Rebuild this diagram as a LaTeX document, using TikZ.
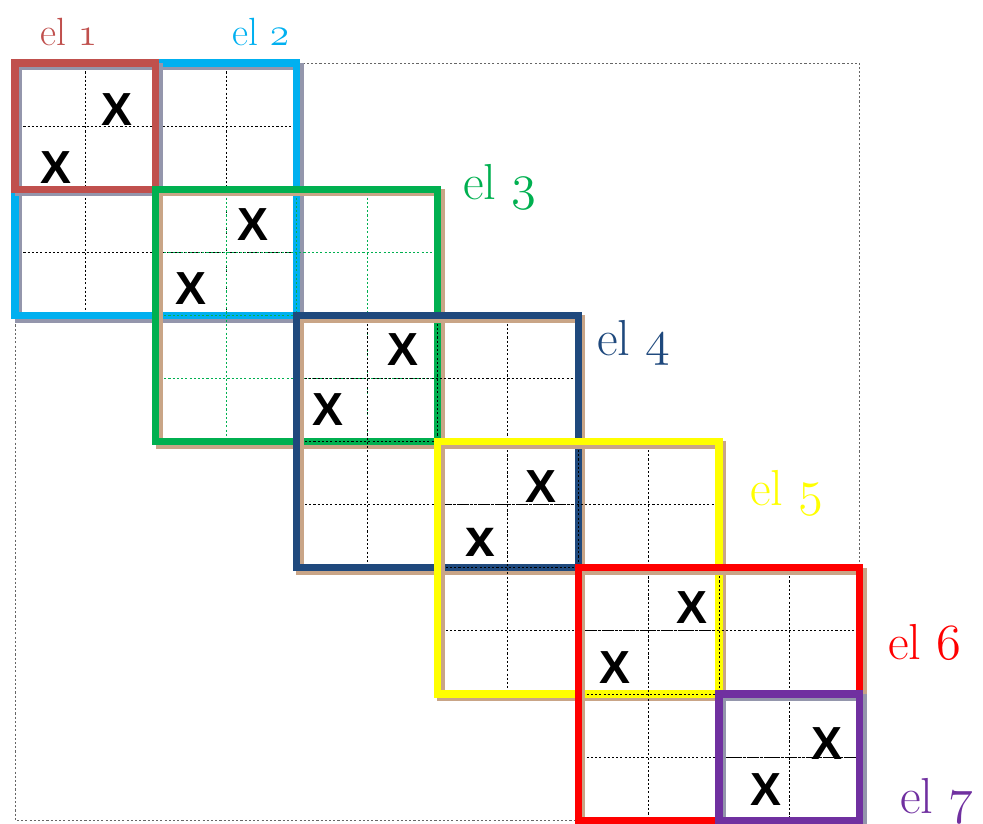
\RequirePackage{fix-cm}
\documentclass[tikz,border=0pt]{standalone}
\usepackage{fontspec}
\usepackage{xcolor}
\usepackage{tikz}
\usetikzlibrary{calc}
\newfontfamily\markfont{Liberation Sans}
\definecolor{elOne}{RGB}{192,80,77}
\definecolor{elTwo}{RGB}{0,176,240}
\definecolor{elThree}{RGB}{0,176,80}
\definecolor{elFour}{RGB}{31,73,125}
\definecolor{elFive}{RGB}{255,255,0}
\definecolor{elSix}{RGB}{255,0,0}
\definecolor{elSeven}{RGB}{112,48,160}
\definecolor{shadeGrey}{RGB}{148,150,172}
\definecolor{shadeTan}{RGB}{201,165,135}
% old style digits for the element labels
\newcommand{\osnum}[1]{{\fontencoding{OML}\fontfamily{cmm}\fontseries{m}\fontshape{it}\selectfont #1}}
\tikzset{
  gridline/.style={line width=0.6pt, dash pattern=on 1.5pt off 1.5pt},
  elbox/.style={line width=5.2pt},
  elshade/.style={line width=5.2pt, xshift=2.5pt, yshift=-2.5pt},
  ellabel/.style={anchor=base west, inner sep=0pt},
  elmark/.style={inner sep=0pt, font=\markfont\bfseries\fontsize{33}{36}\selectfont}
}

\begin{document}
\begin{tikzpicture}[x=1.76cm, y=-1.5775cm]
        \useasboundingbox (-0.213,-0.998) rectangle (13.75,12.06);
        % Draw the outer frame of the matrix
        \draw[gridline, black!60] (0,0) rectangle (12,12);
        % Draw each element block: inner grid, shadow, frame
        \foreach \first/\size/\bcol/\shcol/\gcol in {0/4/elTwo/shadeGrey/black, 0/2/elOne/shadeGrey/black, 2/4/elThree/shadeTan/elThree, 4/4/elFour/shadeTan/black, 6/4/elFive/shadeTan/black, 8/4/elSix/shadeTan/black, 10/2/elSeven/shadeGrey/black} {
            \pgfmathtruncatemacro{\last}{\size-1}
            \pgfmathtruncatemacro{\bEnd}{\first+\size}
            \foreach \k in {1,...,\last} {
                \draw[gridline, \gcol] (\first+\k,\first) -- (\first+\k,\bEnd);
                \draw[gridline, \gcol] (\first,\first+\k) -- (\bEnd,\first+\k);
              }
            \draw[elshade, \shcol] (\first,\first) rectangle (\bEnd,\bEnd);
            \draw[elbox, \bcol] (\first,\first) rectangle (\bEnd,\bEnd);
          }
        % Place the nonzero entries
        \foreach \i/\xa/\ya/\xb/\yb/\ta/\tb in {1/1.45/0.745/0.58/1.664/X/X, 3/3.381/2.567/2.5/3.582/X/X, 4/5.511/4.548/4.446/5.499/X/X, 5/7.472/6.719/6.605/7.591/X/{\fontsize{38}{40}\selectfont x}, 6/9.616/8.637/8.523/9.588/X/X, 7/11.534/10.792/10.668/11.522/X/X} {
            \node[elmark] (markA\i) at (\xa,\ya) {\ta};
            \node[elmark] (markB\i) at (\xb,\yb) {\tb};
          }
        % Label the elements
        \foreach \i/\px/\py/\lcol/\fs in {1/0.355/-0.27/elOne/28, 2/3.082/-0.27/elTwo/28, 3/6.364/2.17/elThree/36, 4/8.267/4.64/elFour/36, 5/10.44/7.02/elFive/36, 6/12.40/9.446/elSix/36, 7/12.571/11.9/elSeven/36} {
            \node[ellabel, text=\lcol, font=\fontsize{\fs}{\fs}\selectfont] (label\i) at (\px,\py) {el \osnum{\i}};
          }
      \end{tikzpicture}
\end{document}
